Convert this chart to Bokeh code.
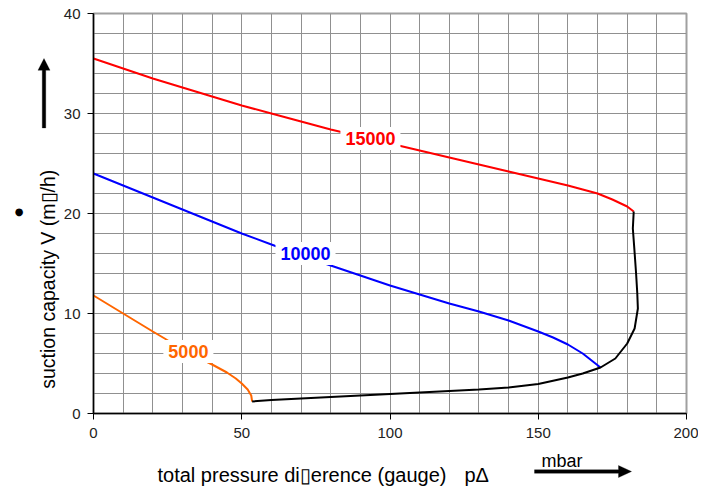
import math
from bokeh.plotting import figure
from bokeh.layouts import row, column
from bokeh.models import Range1d, Label, PolyAnnotation, FixedTicker
from bokeh.embed import file_html
from bokeh.resources import INLINE

# ---- data ----
x_ticks = [0, 50, 100, 150, 200]
y_ticks = [0, 10, 20, 30, 40]

red_x = [0, 10, 20, 30, 40, 50, 60, 70, 80, 90, 100, 110, 120, 130, 140, 150, 160, 165, 170, 175, 180, 182.2]
red_y = [35.5, 34.5, 33.5, 32.6, 31.7, 30.8, 30.0, 29.2, 28.4, 27.7, 27.0, 26.3, 25.6, 24.9, 24.2, 23.5, 22.8, 22.4, 22.0, 21.4, 20.7, 20.2]

blue_x = [0, 10, 20, 30, 40, 50, 60, 70, 80, 90, 100, 110, 120, 130, 140, 150, 155, 160, 165, 171]
blue_y = [24.0, 22.8, 21.6, 20.4, 19.2, 18.0, 16.9, 15.8, 14.8, 13.8, 12.8, 11.9, 11.0, 10.2, 9.3, 8.2, 7.6, 6.9, 6.0, 4.6]

orange_x = [0, 10, 20, 24, 30, 40, 45, 48, 50, 52, 53.2, 53.5]
orange_y = [11.8, 10.0, 8.2, 7.5, 6.4, 4.9, 4.1, 3.5, 3.0, 2.4, 1.8, 1.2]

black_x = [53.5, 60, 70, 80, 90, 100, 110, 120, 130, 140, 150, 160, 165, 171, 176, 180, 182.5, 183.6, 183.4, 183.0, 182.4, 181.9, 182.2]
black_y = [1.2, 1.35, 1.5, 1.65, 1.8, 1.95, 2.1, 2.25, 2.4, 2.6, 2.95, 3.6, 4.0, 4.6, 5.5, 7.0, 8.5, 10.5, 12.0, 14.0, 16.5, 18.5, 20.2]

curve_labels = ["15000", "10000", "5000"]
label_x = [93.4, 71.5, 32.0]
label_y = [27.5, 16.0, 6.2]
label_colors = ["#ff0000", "#0000ff", "#ff6600"]

y_title = "suction capacity V (m\u25af/h)"
x_title = "total pressure di\u25aference (gauge)"
x_symbol = "p\u0394"
unit_text = "mbar"

FONT = "Liberation Sans"

# pixel geometry of the plotting frame
FRAME_L, FRAME_R, FRAME_T, FRAME_B = 92, 686, 13, 413
X0, X1, Y0, Y1 = 0, 200, 0, 40
PX_X = (X1 - X0) / (FRAME_R - FRAME_L)   # data units per pixel
PX_Y = (Y1 - Y0) / (FRAME_B - FRAME_T)

TOTAL_W = 698
LEFT_W = 60           # width of the left decoration strip
MAIN_W = TOTAL_W - LEFT_W
MAIN_H = 444
BOT_H = 44

def x_at(px):
    return X0 + (px - FRAME_L) * PX_X

def y_at(py):
    return Y0 + (FRAME_B - py) * PX_Y

# ---- main chart ----
p = figure(width=MAIN_W, height=MAIN_H, x_range=Range1d(X0, X1), y_range=Range1d(Y0, Y1),
           output_backend="svg", toolbar_location=None,
           min_border_left=FRAME_L - LEFT_W, min_border_right=TOTAL_W - FRAME_R,
           min_border_top=FRAME_T, min_border_bottom=MAIN_H - FRAME_B)

p.background_fill_color = "white"
p.border_fill_color = "white"
p.outline_line_color = "#a0a0a0"
p.outline_line_width = 2

p.xaxis.ticker = FixedTicker(ticks=x_ticks)
p.yaxis.ticker = FixedTicker(ticks=y_ticks)
p.xgrid.ticker = FixedTicker(ticks=list(range(0, 201, 10)))
p.ygrid.ticker = FixedTicker(ticks=list(range(0, 41, 2)))
p.grid.grid_line_color = "#909090"
p.grid.grid_line_width = 1

for ax in (p.xaxis, p.yaxis):
    ax.axis_line_color = "black"
    ax.axis_line_width = 1.5
    ax.major_tick_line_color = "black"
    ax.major_tick_in = 0
    ax.major_tick_out = 6
    ax.minor_tick_line_color = None
    ax.major_label_text_font = FONT
    ax.major_label_text_font_size = "15px"
    ax.major_label_text_color = "#222222"
p.xaxis.major_label_standoff = 8
p.yaxis.major_label_standoff = 7

p.line(red_x, red_y, line_color=label_colors[0], line_width=2)
p.line(blue_x, blue_y, line_color=label_colors[1], line_width=2)
p.line(orange_x, orange_y, line_color=label_colors[2], line_width=2)
p.line(black_x, black_y, line_color="black", line_width=2)

for t, lx, ly, c in zip(curve_labels, label_x, label_y, label_colors):
    p.add_layout(Label(x=lx, y=ly, text=t, text_align="center", text_baseline="middle",
                       text_font=FONT, text_font_size="18px", text_font_style="bold",
                       text_color=c, background_fill_color="white", padding=5))

def deco_fig(w, h, xr, yr):
    f = figure(width=w, height=h, x_range=Range1d(*xr), y_range=Range1d(*yr),
               output_backend="svg", toolbar_location=None,
               x_axis_type=None, y_axis_type=None, min_border=0)
    f.grid.visible = False
    f.outline_line_color = None
    f.background_fill_color = "white"
    f.border_fill_color = "white"
    return f

def h_arrow(x0, x1, y, thick=3.5, head_len=13, head_w=12):
    t = thick / 2 * PX_Y
    hw = head_w / 2 * PX_Y
    hb = x1 - head_len * PX_X
    return [x0, hb, hb, x1, hb, hb, x0], [y - t, y - t, y - hw, y, y + hw, y + t, y + t]

def v_arrow(x, y0, y1, thick=3.5, head_len=13, head_w=12):
    t = thick / 2 * PX_X
    hw = head_w / 2 * PX_X
    hb = y1 - head_len * PX_Y
    return [x - t, x - t, x - hw, x, x + hw, x + t, x + t], [y0, hb, hb, y1, hb, hb, y0]

# ---- left strip: y title, dot, arrow ----
left = deco_fig(LEFT_W, MAIN_H, (x_at(0), x_at(LEFT_W)), (y_at(MAIN_H), y_at(0)))
left.add_layout(Label(x=x_at(47), y=y_at(295), text=y_title, angle=math.pi / 2,
                      text_align="center", text_baseline="middle",
                      text_font=FONT, text_font_size="19.5px", text_color="black"))
left.add_layout(Label(x=x_at(18.5), y=y_at(220), text="\u25cf", text_align="center",
                      text_baseline="middle", text_font="DejaVu Sans", text_font_size="10px",
                      text_color="black"))
vx, vy = v_arrow(x_at(43.5), y_at(127), y_at(50))
left.add_layout(PolyAnnotation(xs=vx, ys=vy, fill_color="black", fill_alpha=1,
                               line_color="black", line_width=1))

# ---- bottom strip: x title, unit, arrow ----
bottom = deco_fig(TOTAL_W, BOT_H, (x_at(0), x_at(TOTAL_W)), (y_at(MAIN_H + BOT_H), y_at(MAIN_H)))
bottom.add_layout(Label(x=x_at(157), y=y_at(474), text=x_title, text_align="left",
                        text_baseline="alphabetic", text_font=FONT, text_font_size="20px",
                        text_color="black"))
bottom.add_layout(Label(x=x_at(464), y=y_at(474), text=x_symbol, text_align="left",
                        text_baseline="alphabetic", text_font=FONT, text_font_size="20px",
                        text_color="black"))
bottom.add_layout(Label(x=x_at(541), y=y_at(460), text=unit_text, text_align="left",
                        text_baseline="alphabetic", text_font=FONT, text_font_size="18px",
                        text_color="black"))
hx, hy = h_arrow(x_at(534), x_at(631), y_at(471))
bottom.add_layout(PolyAnnotation(xs=hx, ys=hy, fill_color="black", fill_alpha=1,
                                 line_color="black", line_width=1))

layout = column(row(left, p, spacing=0), bottom, spacing=0)

open("out.html", "w").write(file_html(layout, INLINE))
